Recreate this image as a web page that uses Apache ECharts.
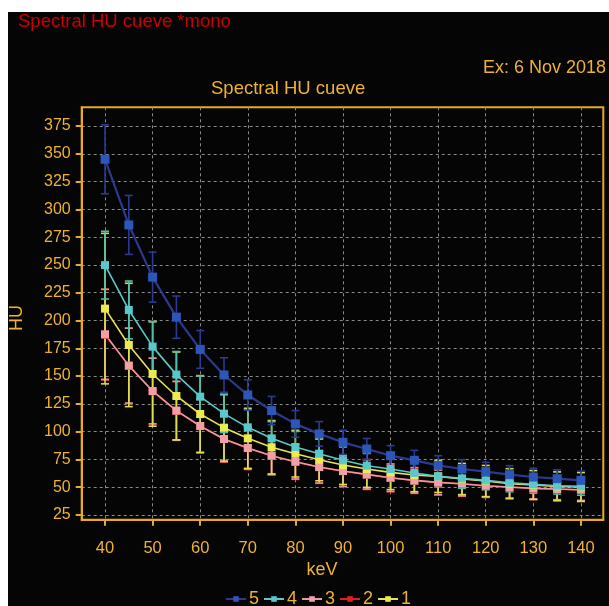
<!DOCTYPE html>
<html>
<head>
<meta charset="utf-8">
<script src="https://cdn.jsdelivr.net/npm/echarts@6/dist/echarts.min.js"></script>
<style>
html,body{margin:0;padding:0;background:#ffffff;width:609px;height:606px;overflow:hidden;}
#chart{position:absolute;left:8px;top:12px;width:601px;height:594px;background:#050505;}
</style>
</head>
<body>
<div id="chart"></div>
<script>
// ---- data ----
const kev = [40,45,50,55,60,65,70,75,80,85,90,95,100,105,110,115,120,125,130,135,140];
const xTicks = [40,50,60,70,80,90,100,110,120,130,140];
const yTicks = [25,50,75,100,125,150,175,200,225,250,275,300,325,350,375];

const s5 = [345,286,239,203,174,151,133,119,107,98,90.4,84.4,78.4,74.2,69.7,66.4,64,61.3,59.2,57.7,56.2];
const s5err = [31,26.5,22.5,19,17,15.5,13.7,12.7,12,11,10.8,9.5,9,9,8.7,8.4,8.4,8.1,7.8,8,8.2];

const s4 = [249.8,209.5,176.5,151.3,131.5,116.2,103.9,94,86.2,80.2,74.2,69.4,66.4,62.8,59.8,58,56.2,54,52.6,51.4,50.8];
const s4err = [30.5,26,22.5,20.8,18.6,17,16,15,14,13,12,11,10.5,10,9.5,9,8.5,8,8,7.5,8];

const s3 = [187.6,159.4,136.6,118.9,105.1,93.4,85.3,78.4,73,68.2,64.6,61.6,58.6,56.2,54.4,53.2,51.4,50.2,49,48.4,47.8];
const s3err = [40.5,33.7,29.5,26.3,24,20.4,19,17,15.6,14.4,13.8,13.2,12.3,11.4,11.1,11,10.2,9.9,9.6,9.6,9.6];

const s2 = [187.2,159.3,136.3,118.7,105,93.2,85.1,78.2,72.8,68,64.4,61.4,58.4,56,54.2,53,51.2,50,48.8,48.2,47.6];
const s2err = [40.8,33.9,29.8,26.5,24.2,20.6,19.2,17.2,15.8,14.6,14,13.4,12.5,11.6,11.3,11.2,10.4,10.1,9.8,9.8,9.8];

const s1 = [210.7,178,151.9,132.1,115.9,103.6,94,86,80.2,74.8,70,66.4,63.4,61,59.8,57.4,55.6,53.2,52,50.8,50.2];
const s1err = [67.7,55.5,47,39.6,34.5,30,27,24,21,19,17.5,16.5,15.5,15,14.5,14,14,13.5,13,13,13];

// ---- styling ----
const GOLD = '#f0b232';
const AXIS = '#e8aa26';
const FONT = '"Liberation Sans", Arial, Helvetica, sans-serif';

function lineSeries(name, vals, lineColor, markColor, width, size) {
  return {
    type: 'line', name: name, z: 3,
    data: kev.map((k, i) => [k, vals[i]]),
    symbol: 'rect', symbolSize: size,
    lineStyle: {color: lineColor, width: width},
    itemStyle: {color: markColor},
    emphasis: {disabled: true},
    animation: false
  };
}
function errSeries(name, vals, err, color) {
  return {
    type: 'custom', name: name, z: 2, silent: true, animation: false,
    data: kev.map((k, i) => [k, vals[i] - err[i], vals[i] + err[i]]),
    encode: {x: 0, y: [1, 2]},
    renderItem: function (params, api) {
      const x = api.value(0);
      const lo = api.coord([x, api.value(1)]);
      const hi = api.coord([x, api.value(2)]);
      const hw = 4;
      const st = {stroke: color, lineWidth: 1.6, fill: null};
      return {type: 'group', children: [
        {type: 'line', shape: {x1: lo[0], y1: lo[1], x2: hi[0], y2: hi[1]}, style: st},
        {type: 'line', shape: {x1: lo[0] - hw, y1: lo[1], x2: lo[0] + hw, y2: lo[1]}, style: st},
        {type: 'line', shape: {x1: hi[0] - hw, y1: hi[1], x2: hi[0] + hw, y2: hi[1]}, style: st}
      ]};
    }
  };
}

const chart = echarts.init(document.getElementById('chart'), null, {renderer: 'canvas'});
const split = {show: true, lineStyle: {color: '#8a8a8a', width: 1, type: [3, 3]}};
chart.setOption({
  backgroundColor: '#050505',
  animation: false,
  textStyle: {fontFamily: FONT},
  grid: {left: 73.7, top: 95.3, width: 521.6, height: 412.4, show: true,
         borderColor: AXIS, borderWidth: 2, backgroundColor: 'transparent', containLabel: false},
  xAxis: {
    type: 'value', min: 35.1, max: 144.7,
    axisLine: {show: true, lineStyle: {color: AXIS, width: 2}},
    axisTick: {show: true, customValues: xTicks, length: 6, lineStyle: {color: AXIS, width: 2}},
    axisLabel: {customValues: xTicks, color: GOLD, fontSize: 16.5, fontFamily: FONT, margin: 20},
    splitLine: split
  },
  yAxis: {
    type: 'value', min: 20.8, max: 391.8,
    axisLine: {show: true, lineStyle: {color: AXIS, width: 2}},
    axisTick: {show: true, customValues: yTicks, length: 6, lineStyle: {color: AXIS, width: 2}},
    axisLabel: {customValues: yTicks, color: GOLD, fontSize: 16, fontFamily: FONT, margin: 11},
    splitLine: split
  },
  legend: {
    data: ['5', '4', '3', '2', '1'],
    left: 217, top: 578, itemWidth: 20, itemHeight: 7, itemGap: 4, padding: 0,
    textStyle: {color: GOLD, fontSize: 18, fontFamily: FONT, padding: [0, 0, 0, -2]},
    selectedMode: false
  },
  graphic: [
    {type: 'text', left: 10, top: 0, style: {text: 'Spectral HU cueve *mono', fill: '#cc0000', font: '18.5px ' + FONT}},
    {type: 'text', right: 3, top: 47, style: {text: 'Ex: 6 Nov 2018', fill: GOLD, font: '18px ' + FONT}},
    {type: 'text', left: 203, top: 67, style: {text: 'Spectral HU cueve', fill: GOLD, font: '18.5px ' + FONT}},
    {type: 'text', x: 9, y: 306, rotation: Math.PI / 2, style: {text: 'HU', fill: GOLD, font: '18px ' + FONT, align: 'center', verticalAlign: 'middle'}},
    {type: 'text', x: 314, y: 558, style: {text: 'keV', fill: GOLD, font: '18px ' + FONT, align: 'center', verticalAlign: 'middle'}}
  ],
  series: [
    errSeries('e2', s2, s2err, '#e02626'),
    errSeries('e3', s3, s3err, '#e8929c'),
    errSeries('e1', s1, s1err, '#dcdc50'),
    errSeries('e4', s4, s4err, '#4cc2aa'),
    errSeries('e5', s5, s5err, '#2b3a92'),
    lineSeries('2', s2, '#e02020', '#e02020', 1.5, 8),
    lineSeries('3', s3, '#ee98a0', '#f0a0a8', 1.6, 8),
    lineSeries('1', s1, '#e6e25a', '#ecea4e', 1.6, 8),
    lineSeries('4', s4, '#5cc8c8', '#58c8cc', 1.6, 8),
    lineSeries('5', s5, '#2b3a8e', '#2c56b8', 2.2, 9)
  ]
});
</script>
</body>
</html>
